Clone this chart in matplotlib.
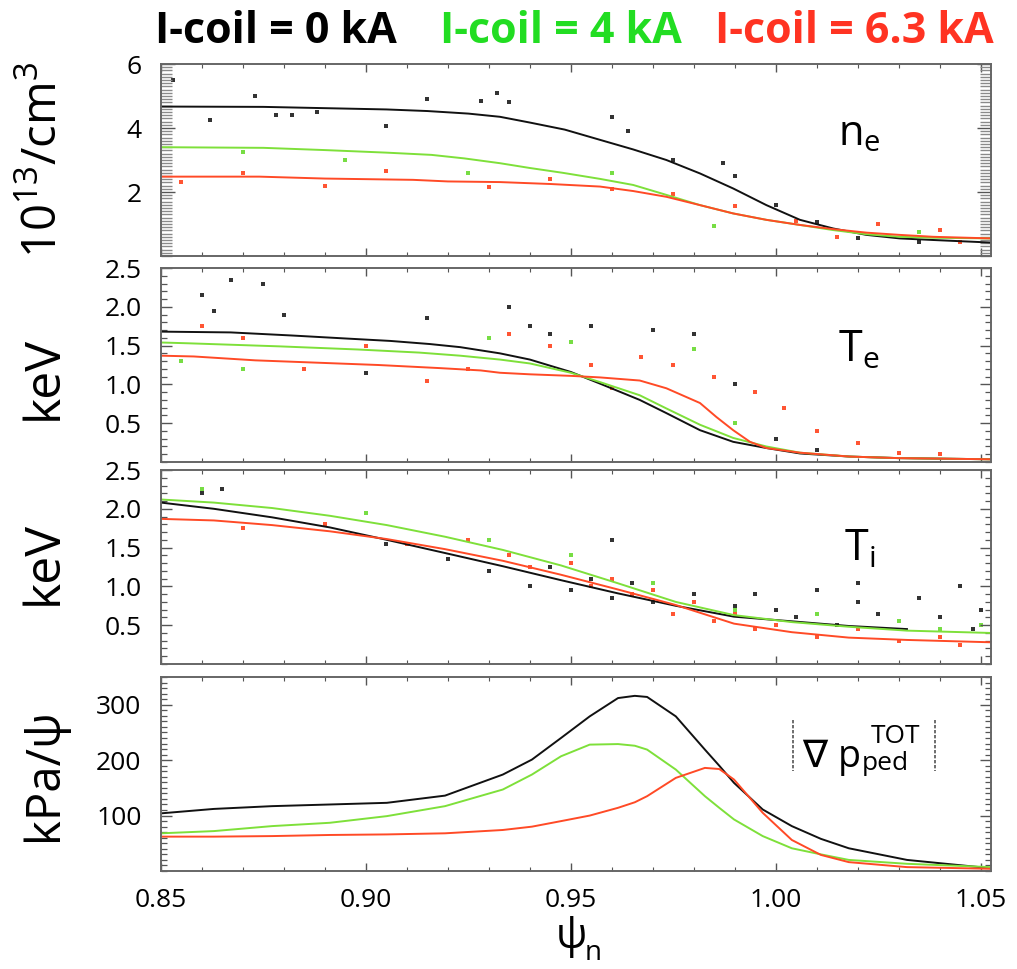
import matplotlib
matplotlib.use("Agg")
import matplotlib.pyplot as plt
from matplotlib import font_manager
from matplotlib.ticker import MultipleLocator, FixedLocator, NullFormatter, FormatStrFormatter
import numpy as np

# ---------------- data ----------------
series_names = ["I-coil = 0 kA", "I-coil = 4 kA", "I-coil = 6.3 kA"]
line_colors = ["#111111", "#7ee03a", "#ff4a26"]
dot_colors = ["#333333", "#77dd44", "#ff5533"]
title_colors = ["#000000", "#22dd22", "#ff3322"]

# n_e (10^13/cm^3)
ne_psi_k = [0.85, 0.875, 0.89, 0.905, 0.915, 0.925, 0.9327, 0.94, 0.9485, 0.9571, 0.9652, 0.9733,
            0.9815, 0.9896, 0.9977, 1.0059, 1.014, 1.0221, 1.0302, 1.0384, 1.0525]
ne_k = [4.67, 4.66, 4.62, 4.58, 4.53, 4.45, 4.35, 4.17, 3.95, 3.63, 3.33, 3.00,
        2.58, 2.11, 1.59, 1.13, 0.86, 0.66, 0.55, 0.50, 0.42]
ne_psi_g = [0.85, 0.875, 0.89, 0.905, 0.916, 0.924, 0.9327, 0.94, 0.948, 0.9571, 0.9652, 0.9733,
            0.9815, 0.9896, 0.9977, 1.0059, 1.014, 1.0221, 1.0302, 1.0384, 1.0525]
ne_g = [3.40, 3.38, 3.31, 3.23, 3.16, 3.05, 2.90, 2.75, 2.60, 2.41, 2.22, 1.91,
        1.59, 1.33, 1.13, 0.97, 0.81, 0.68, 0.60, 0.57, 0.55]
ne_psi_r = [0.85, 0.874, 0.89, 0.9115, 0.92, 0.9327, 0.945, 0.9571, 0.9652, 0.9733,
            0.9815, 0.9896, 0.9977, 1.0059, 1.014, 1.0221, 1.0302, 1.0384, 1.0525]
ne_r = [2.48, 2.48, 2.42, 2.38, 2.33, 2.31, 2.25, 2.17, 2.03, 1.85,
        1.59, 1.33, 1.13, 0.97, 0.84, 0.73, 0.66, 0.60, 0.55]
# scattered measurements (psi, value)
ne_dots_k = [(0.853, 5.5), (0.862, 4.25), (0.873, 5.0), (0.878, 4.4), (0.882, 4.4), (0.888, 4.5),
             (0.905, 4.05), (0.915, 4.9), (0.928, 4.85), (0.932, 5.1), (0.935, 4.8), (0.96, 4.35),
             (0.964, 3.9), (0.975, 3.0), (0.987, 2.9), (0.99, 2.5), (1.0, 1.6), (1.01, 1.05),
             (1.02, 0.55), (1.035, 0.45)]
ne_dots_g = [(0.87, 3.25), (0.895, 3.0), (0.925, 2.6), (0.96, 2.6), (0.985, 0.95), (1.035, 0.75)]
ne_dots_r = [(0.855, 2.3), (0.87, 2.6), (0.89, 2.2), (0.905, 2.65), (0.93, 2.15), (0.945, 2.4),
             (0.96, 2.1), (0.975, 1.95), (0.99, 1.55), (1.005, 1.1), (1.015, 0.6), (1.025, 1.0),
             (1.04, 0.8), (1.045, 0.45)]

# T_e (keV)
te_psi_k = [0.85, 0.867, 0.882, 0.8956, 0.906, 0.9156, 0.923, 0.9327, 0.94, 0.95, 0.9571, 0.9668,
            0.9733, 0.9815, 0.9896, 0.9977, 1.0059, 1.018, 1.030, 1.0525]
te_k = [1.68, 1.67, 1.63, 1.59, 1.56, 1.52, 1.48, 1.40, 1.32, 1.16, 1.01, 0.80,
        0.63, 0.41, 0.26, 0.18, 0.11, 0.07, 0.05, 0.035]
te_psi_g = [0.85, 0.8565, 0.879, 0.898, 0.913, 0.923, 0.9327, 0.94, 0.95, 0.9571, 0.9668,
            0.9733, 0.9815, 0.9896, 0.9977, 1.0059, 1.018, 1.030, 1.0525]
te_g = [1.54, 1.53, 1.49, 1.45, 1.41, 1.37, 1.32, 1.27, 1.15, 1.03, 0.86,
        0.69, 0.48, 0.31, 0.20, 0.12, 0.07, 0.05, 0.035]
te_psi_r = [0.85, 0.858, 0.873, 0.888, 0.903, 0.918, 0.928, 0.9327, 0.94, 0.95, 0.9571, 0.9668,
            0.9733, 0.9815, 0.9855, 0.9896, 0.9937, 0.9977, 1.0059, 1.018, 1.030, 1.0525]
te_r = [1.37, 1.36, 1.31, 1.28, 1.25, 1.21, 1.18, 1.15, 1.13, 1.11, 1.09, 1.05,
        0.95, 0.76, 0.58, 0.41, 0.26, 0.18, 0.12, 0.07, 0.05, 0.035]
te_dots_k = [(0.86, 2.15), (0.863, 1.95), (0.867, 2.35), (0.875, 2.3), (0.88, 1.9), (0.9, 1.15),
             (0.915, 1.85), (0.935, 2.0), (0.94, 1.75), (0.945, 1.65), (0.955, 1.75), (0.97, 1.7),
             (0.98, 1.65), (0.99, 1.0), (1.0, 0.3), (1.01, 0.15)]
te_dots_g = [(0.855, 1.3), (0.87, 1.2), (0.93, 1.6), (0.95, 1.55), (0.98, 1.45), (0.99, 0.5)]
te_dots_r = [(0.86, 1.75), (0.87, 1.6), (0.885, 1.2), (0.9, 1.5), (0.915, 1.05), (0.925, 1.2),
             (0.935, 1.65), (0.945, 1.5), (0.955, 1.25), (0.96, 0.95), (0.967, 1.35), (0.975, 1.25),
             (0.985, 1.1), (0.995, 0.9), (1.002, 0.7), (1.01, 0.4), (1.02, 0.25), (1.03, 0.12),
             (1.04, 0.1)]

# T_i (keV)
ti_psi = [0.85, 0.8629, 0.8771, 0.8912, 0.9051, 0.9193, 0.9334, 0.9476, 0.9615, 0.9756,
          0.9898, 1.0039, 1.0178, 1.032, 1.0524]
ti_k = [2.08, 2.00, 1.89, 1.76, 1.60, 1.43, 1.26, 1.08, 0.91, 0.75, 0.61, 0.55, 0.49, 0.45, np.nan]
ti_g = [2.12, 2.08, 2.01, 1.91, 1.79, 1.64, 1.47, 1.27, 1.04, 0.80, 0.63, 0.54, 0.48, 0.43, 0.40]
ti_r = [1.87, 1.85, 1.79, 1.71, 1.61, 1.48, 1.33, 1.15, 0.96, 0.76, 0.52, 0.41, 0.34, 0.31, 0.28]
ti_dots_k = [(0.86, 2.2), (0.865, 2.25), (0.89, 1.8), (0.905, 1.55), (0.92, 1.35), (0.93, 1.2),
             (0.94, 1.0), (0.945, 1.25), (0.95, 0.95), (0.955, 1.1), (0.96, 0.85), (0.965, 1.05),
             (0.97, 0.8), (0.975, 0.65), (0.98, 0.9), (0.985, 0.55), (0.99, 0.75), (0.995, 0.9),
             (1.0, 0.7), (1.005, 0.6), (1.01, 0.95), (1.015, 0.5), (1.02, 0.8), (1.025, 0.65),
             (1.03, 0.55), (1.035, 0.85), (1.04, 0.6), (1.045, 1.0), (1.048, 0.45), (1.05, 0.7),
             (0.96, 1.6), (1.02, 1.05)]
ti_dots_g = [(0.86, 2.25), (0.9, 1.95), (0.93, 1.6), (0.95, 1.4), (0.97, 1.05), (0.99, 0.7),
             (1.01, 0.65), (1.03, 0.55), (1.04, 0.45), (1.05, 0.5)]
ti_dots_r = [(0.87, 1.75), (0.89, 1.8), (0.91, 1.55), (0.925, 1.6), (0.935, 1.4), (0.94, 1.25),
             (0.95, 1.3), (0.955, 1.0), (0.96, 1.1), (0.965, 0.9), (0.97, 0.95), (0.975, 0.65),
             (0.98, 0.8), (0.985, 0.55), (0.99, 0.65), (0.995, 0.45), (1.0, 0.5), (1.01, 0.35),
             (1.02, 0.45), (1.03, 0.3), (1.04, 0.35), (1.045, 0.25)]

# |grad p_ped^TOT| (kPa/psi)
gp_psi = [0.85, 0.8629, 0.8771, 0.8912, 0.9051, 0.9193, 0.9334, 0.9405, 0.9476, 0.9546, 0.9615,
          0.9656, 0.9686, 0.9756, 0.9827, 0.9862, 0.9898, 0.9968, 1.0039, 1.011, 1.0178, 1.032, 1.0524]
gp_k = [104, 112, 117, 120, 123, 136, 174, 201, 240, 279, 312,
        316, 314, 279, 219, 190, 159, 111, 81, 58, 41, 20, 5]
gp_g = [68, 72, 81, 87, 99, 117, 147, 174, 207, 228, 229,
        226, 219, 183, 135, 114, 93, 63, 41, 30, 20, 13, 7]
gp_r = [62, 62, 63, 65, 66, 68, 74, 80, 90, 100, 114,
        124, 135, 168, 186, 184, 165, 105, 56, 29, 16, 7, 4]

x_ticks = [0.85, 0.90, 0.95, 1.00, 1.05]
x_ticklabels = ["0.85", "0.90", "0.95", "1.00", "1.05"]

# ---------------- fonts ----------------
names = {f.name for f in font_manager.fontManager.ttflist}
main_font = "Open Sans" if "Open Sans" in names else "DejaVu Sans"
plt.rcParams["font.family"] = [main_font, "DejaVu Sans"]
plt.rcParams["mathtext.fontset"] = "custom"
plt.rcParams["mathtext.rm"] = main_font
plt.rcParams["mathtext.it"] = main_font
plt.rcParams["mathtext.bf"] = main_font + ":bold"

W, H = 1017, 969
fig = plt.figure(figsize=(W / 100, H / 100), dpi=100)


def fx(px):
    return px / W


def fy(py):
    return 1 - py / H


def make_ax(top, bottom):
    ax = fig.add_axes([fx(161), fy(bottom), fx(991) - fx(161), fy(top) - fy(bottom)])
    ax.set_xlim(0.85, 1.0525)
    for s in ax.spines.values():
        s.set_color("#666666")
        s.set_linewidth(1.4)
    ax.xaxis.set_major_locator(FixedLocator(x_ticks))
    ax.xaxis.set_minor_locator(MultipleLocator(0.01))
    ax.tick_params(axis="both", which="both", direction="in", top=True, right=True,
                   colors="#555555", labelcolor="black")
    ax.tick_params(axis="x", which="major", length=6, width=1.0)
    ax.tick_params(axis="x", which="minor", length=3, width=0.8)
    ax.tick_params(axis="y", labelsize=19, pad=14)
    return ax


def draw(ax, xs, ys, color):
    ax.plot(xs, ys, color=color, lw=1.4)


def dots(ax, pts, color):
    ax.scatter([p[0] for p in pts], [p[1] for p in pts], s=5, color=color, marker="s",
               linewidths=0, zorder=1)


panels = [(64, 256), (268, 462), (470, 664), (677, 871)]
ax1 = make_ax(*panels[0])
ax2 = make_ax(*panels[1])
ax3 = make_ax(*panels[2])
ax4 = make_ax(*panels[3])

# panel 1
dots(ax1, ne_dots_k, dot_colors[0]); dots(ax1, ne_dots_g, dot_colors[1]); dots(ax1, ne_dots_r, dot_colors[2])
draw(ax1, ne_psi_k, ne_k, line_colors[0])
draw(ax1, ne_psi_g, ne_g, line_colors[1])
draw(ax1, ne_psi_r, ne_r, line_colors[2])
ax1.set_ylim(0, 6)
ax1.yaxis.set_major_locator(FixedLocator([2, 4, 6]))
ax1.yaxis.set_minor_locator(MultipleLocator(0.1))
ax1.tick_params(axis="y", which="minor", length=8, width=1.0, colors="#8a8a8a")
ax1.tick_params(axis="y", which="major", length=10, width=1.0)

# panel 2
dots(ax2, te_dots_k, dot_colors[0]); dots(ax2, te_dots_g, dot_colors[1]); dots(ax2, te_dots_r, dot_colors[2])
draw(ax2, te_psi_k, te_k, line_colors[0])
draw(ax2, te_psi_g, te_g, line_colors[1])
draw(ax2, te_psi_r, te_r, line_colors[2])
# panel 3
dots(ax3, ti_dots_k, dot_colors[0]); dots(ax3, ti_dots_g, dot_colors[1]); dots(ax3, ti_dots_r, dot_colors[2])
draw(ax3, ti_psi, ti_k, line_colors[0])
draw(ax3, ti_psi, ti_g, line_colors[1])
draw(ax3, ti_psi, ti_r, line_colors[2])
for ax in (ax2, ax3):
    ax.set_ylim(0, 2.5)
    ax.yaxis.set_major_locator(FixedLocator([0.5, 1.0, 1.5, 2.0, 2.5]))
    ax.yaxis.set_major_formatter(FormatStrFormatter("%.1f"))
    ax.yaxis.set_minor_locator(MultipleLocator(0.1))
    ax.tick_params(axis="y", which="minor", length=4, width=0.9)
    ax.tick_params(axis="y", which="major", length=8, width=1.0)

# panel 4
draw(ax4, gp_psi, gp_k, line_colors[0])
draw(ax4, gp_psi, gp_g, line_colors[1])
draw(ax4, gp_psi, gp_r, line_colors[2])
ax4.set_ylim(0, 350)
ax4.yaxis.set_major_locator(FixedLocator([100, 200, 300]))
ax4.yaxis.set_minor_locator(MultipleLocator(10))
ax4.tick_params(axis="y", which="minor", length=4, width=0.9)
ax4.tick_params(axis="y", which="major", length=8, width=1.0)

for ax in (ax1, ax2, ax3):
    ax.xaxis.set_major_formatter(NullFormatter())
ax4.set_xticklabels(x_ticklabels)
ax4.tick_params(axis="x", labelsize=19, pad=12)

# y labels
fig.text(fx(44), fy(160), r"10$^{13}$/cm$^{3}$", rotation=90, ha="center", va="center", fontsize=34)
fig.text(fx(44), fy(378), "keV", rotation=90, ha="center", va="center", fontsize=36)
fig.text(fx(44), fy(563), "keV", rotation=90, ha="center", va="center", fontsize=36)
fig.text(fx(44), fy(775), "kPa/\u03c8", rotation=90, ha="center", va="center", fontsize=34)

# x label
fig.text(fx(556), fy(948), "\u03c8", fontsize=30, ha="left", va="baseline")
fig.text(fx(585), fy(960), "n", fontsize=20, ha="left", va="baseline")

# panel labels
fig.text(fx(838), fy(145), r"n$_{\rm e}$", fontsize=30, ha="left", va="baseline")
fig.text(fx(838), fy(362), r"T$_{\rm e}$", fontsize=31, ha="left", va="baseline")
fig.text(fx(844), fy(561), r"T$_{\rm i}$", fontsize=31, ha="left", va="baseline")

# grad p label
fig.text(fx(802), fy(767), "\u2207", fontsize=27, family="DejaVu Sans", ha="left", va="baseline")
fig.text(fx(838), fy(767), "p", fontsize=27, ha="left", va="baseline")
fig.text(fx(862), fy(770), "ped", fontsize=19, ha="left", va="baseline")
fig.text(fx(871), fy(743), "TOT", fontsize=19, ha="left", va="baseline")
for bx in (793, 935):
    fig.add_artist(plt.Line2D([fx(bx), fx(bx)], [fy(720), fy(771)], color="#555555", lw=1.2,
                              linestyle=(0, (2, 1))))

# title
title_x = [155, 440, 715]
for name, col, tx in zip(series_names, title_colors, title_x):
    fig.text(fx(tx), fy(43), name, color=col, fontsize=31, fontweight="bold", ha="left", va="baseline")

fig.savefig("out.png", dpi=100)
